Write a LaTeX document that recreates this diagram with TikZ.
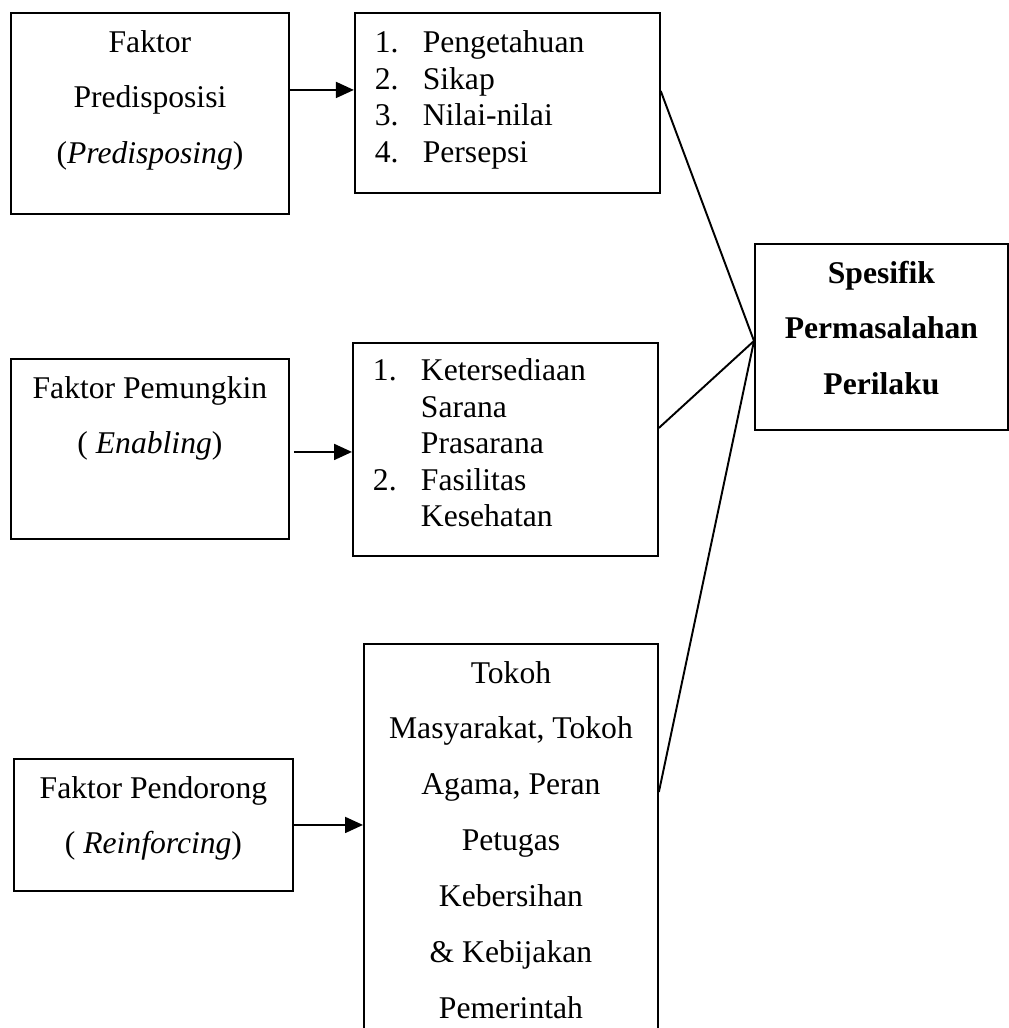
\documentclass[tikz,border=0pt]{standalone}
\usepackage{fontspec}
\setmainfont{Liberation Serif}
\usetikzlibrary{positioning,arrows.meta}

\begin{document}
\begin{tikzpicture}[x=0.02cm, y=-0.02cm,
        font=\fontsize{18}{31.8}\selectfont,
        kotak/.style={draw, line width=1.1pt, inner sep=0pt, anchor=north west},
        daftar/.style={font=\fontsize{18}{20.8}\selectfont},
        panah/.style={-{Triangle[length=0.36cm, width=0.32cm]}, line width=1.1pt},
        garis/.style={line width=1.1pt}]
        \useasboundingbox (0,0) rectangle (1008,1028);

        % Faktor predisposisi dan isinya
        \node[kotak] (pred) at (10,12) {\parbox[c][4.02cm][t]{5.56cm}{\centering\strut Faktor\\Predisposisi\\(\textit{Predisposing})}};
        \node[kotak, daftar, right=1.28cm of pred.north east, anchor=north west] (predlist) {\parbox[c][3.6cm][t]{6.1cm}{\vspace*{0.28cm}%
            \hspace*{0.4cm}\makebox[0.96cm][l]{1.}\strut Pengetahuan\\
            \hspace*{0.4cm}\makebox[0.96cm][l]{2.}Sikap\\
            \hspace*{0.4cm}\makebox[0.96cm][l]{3.}Nilai-nilai\\
            \hspace*{0.4cm}\makebox[0.96cm][l]{4.}Persepsi}};

        % Faktor pemungkin dan isinya
        \node[kotak] (pemu) at (10,358) {\parbox[c][3.6cm][t]{5.56cm}{\centering\strut Faktor Pemungkin\\( \textit{Enabling})}};
        \node[kotak, daftar] (pemulist) at (352,342) {\parbox[c][4.26cm][t]{6.1cm}{\vspace*{0.24cm}%
            \hspace*{0.4cm}\makebox[0.96cm][l]{1.}\strut Ketersediaan\\
            \hspace*{1.36cm}Sarana\\
            \hspace*{1.36cm}Prasarana\\
            \hspace*{0.4cm}\makebox[0.96cm][l]{2.}Fasilitas\\
            \hspace*{1.36cm}Kesehatan}};

        % Faktor pendorong dan isinya
        \node[kotak] (pend) at (13,758) {\parbox[c][2.64cm][t]{5.58cm}{\centering\strut Faktor Pendorong\\( \textit{Reinforcing})}};
        \node[kotak] (pendlist) at (363,643) {\parbox[c][8cm][t]{5.88cm}{\centering\strut Tokoh\\Masyarakat, Tokoh\\Agama, Peran\\Petugas\\Kebersihan\\\& Kebijakan\\Pemerintah}};

        % Hasil
        \node[kotak] (spes) at (754,243) {\parbox[c][3.72cm][t]{5.06cm}{\centering\bfseries\strut Spesifik\\Permasalahan\\Perilaku}};

        % Panah faktor ke isi
        \coordinate (p1) at ([yshift=0.47cm]pred.east);
        \coordinate (p2) at ([xshift=0.08cm, yshift=-0.06cm]pemu.east);
        \draw[panah] (p1) -- (p1 -| predlist.west);
        \draw[panah] (p2) -- (p2 -| pemulist.west);
        \draw[panah] (pend.east) -- (pend.east -| pendlist.west);

        % Garis ke spesifik permasalahan
        \coordinate (titik) at ([yshift=-0.08cm]spes.west);
        \draw[garis] ([yshift=0.24cm]predlist.east) -- (titik);
        \draw[garis] ([yshift=0.43cm]pemulist.east) -- (titik);
        \draw[garis] ([yshift=-2.98cm]pendlist.north east) -- (titik);
    \end{tikzpicture}
\end{document}
